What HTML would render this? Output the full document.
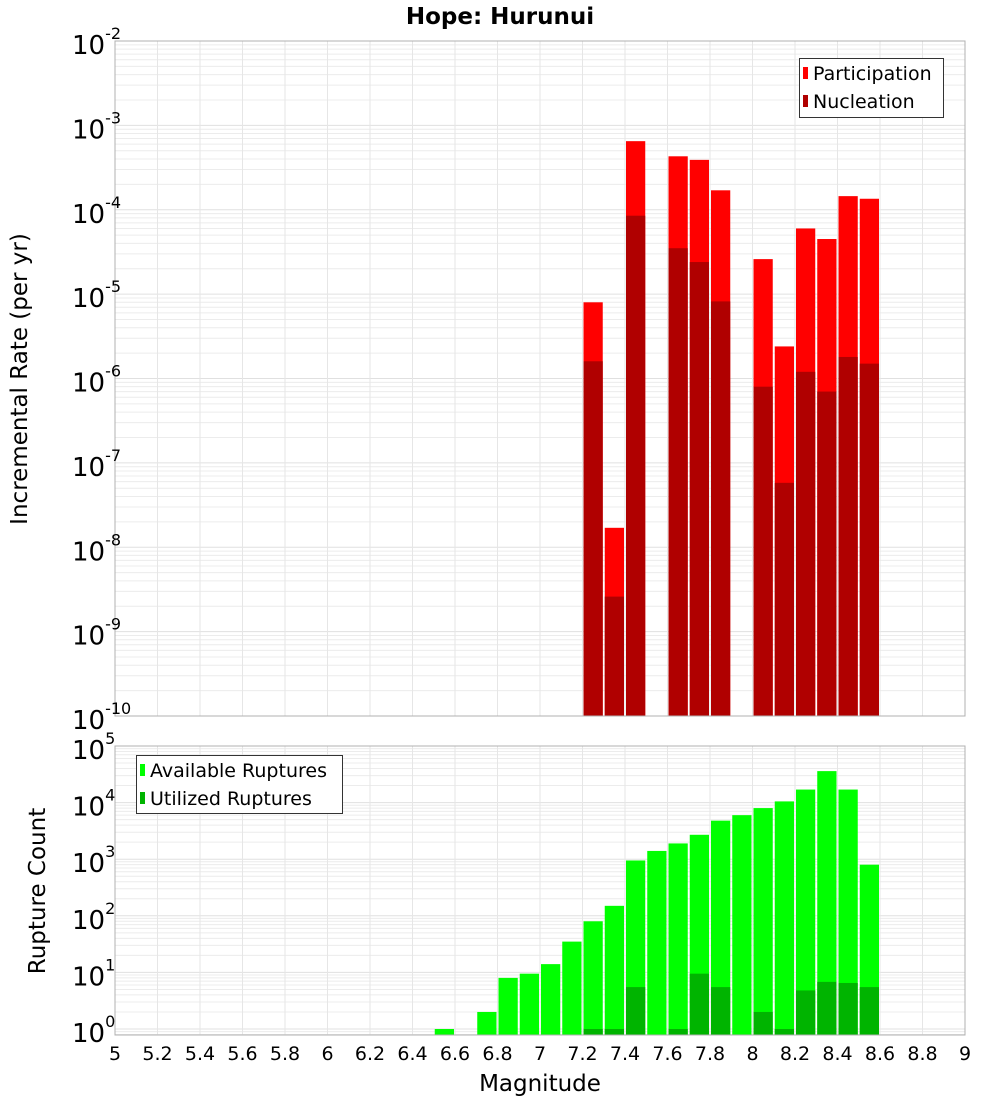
<!DOCTYPE html>
<html><head><meta charset="utf-8"><style>
body{margin:0;background:#fff;}
svg{display:block;font-family:"DejaVu Sans","Liberation Sans",sans-serif;}
</style></head><body>
<svg id="chart" width="1000" height="1100"></svg>
<script>
const mags=[7.2,7.3,7.4,7.6,7.7,7.8,8.0,8.1,8.2,8.3,8.4,8.5];
const participation=[8e-6,1.7e-8,6.5e-4,4.3e-4,3.9e-4,1.7e-4,2.6e-5,2.4e-6,6e-5,4.5e-5,1.45e-4,1.35e-4];
const nucleation=[1.6e-6,2.6e-9,8.5e-5,3.5e-5,2.4e-5,8.2e-6,8e-7,5.8e-8,1.2e-6,7e-7,1.8e-6,1.5e-6];
const availMags=[6.5,6.7,6.8,6.9,7.0,7.1,7.2,7.3,7.4,7.5,7.6,7.7,7.8,7.9,8.0,8.1,8.2,8.3,8.4,8.5];
const available=[1,2,8,9.5,14,35,80,150,950,1400,1900,2700,4800,6000,8000,10500,17000,36000,17000,800];
const utilMags=[7.2,7.3,7.4,7.6,7.7,7.8,8.0,8.1,8.2,8.3,8.4,8.5];
const utilized=[1,1,5.5,1,9.5,5.5,2,1,4.8,6.8,6.5,5.5];
const xTicks=[5,5.2,5.4,5.6,5.8,6,6.2,6.4,6.6,6.8,7,7.2,7.4,7.6,7.8,8,8.2,8.4,8.6,8.8,9];
const topExps=[-2,-3,-4,-5,-6,-7,-8,-9,-10];
const botExps=[5,4,3,2,1,0];

const NS="http://www.w3.org/2000/svg";
const svg=document.getElementById('chart');
function mk(tag,attrs,parent){const e=document.createElementNS(NS,tag);for(const k in attrs)e.setAttribute(k,attrs[k]);(parent||svg).appendChild(e);return e;}
const X0=115,X1=965;
const xs=m=>X0+(m-5)/4*(X1-X0);
const T0=41,T1=716;
const yT=v=>T0+(-2-Math.log10(v))*(T1-T0)/8;
const B0=746,B1=1035;
const yB=v=>1029-Math.log10(v)*56.6;

function grid(top,bot,yf,lo,hi){
  const g=mk('g',{});
  
  
  for(let e=lo;e<hi;e++)for(let k=1;k<10;k++){const y=yf(k*Math.pow(10,e));if(y<top||y>bot)continue;
    mk('line',{x1:X0,x2:X1,y1:y,y2:y,stroke:k==1?'#e0e0e0':'#ececec','stroke-width':1},g);}
  xTicks.forEach(t=>{const x=xs(t);mk('line',{x1:x,x2:x,y1:top,y2:bot,stroke:'#e6e6e6'},g);});
}
grid(T0,T1,yT,-10,-1);
grid(B0,B1,yB,-1,5);

function bar(m,v,yf,base,color,name){
  const x=xs(m)+1,w=xs(m+0.1)-xs(m)-2,y=yf(v);
  const r=mk('rect',{x:x,y:y,width:w,height:base-y,fill:color});
  
  
}
mags.forEach((m,i)=>bar(m,participation[i],yT,T1,'#ff0000','participation-bar'));
mags.forEach((m,i)=>bar(m,nucleation[i],yT,T1,'#b00000','nucleation-bar'));
availMags.forEach((m,i)=>bar(m,available[i],yB,B1,'#00ff00','available-bar'));
utilMags.forEach((m,i)=>bar(m,utilized[i],yB,B1,'#00b400','utilized-bar'));

mk('rect',{x:X0,y:T0,width:X1-X0,height:T1-T0,fill:'none',stroke:'#b0b0b0'});
mk('rect',{x:X0,y:B0,width:X1-X0,height:B1-B0,fill:'none',stroke:'#b0b0b0'});

function yLabel(e,y){
  const t=mk('text',{x:72,y:y+13,'text-anchor':'start','font-size':26,fill:'#000'});
  
  
  const s=mk('tspan',{},t);s.textContent='10';
  const sup=mk('tspan',{dy:-15,'font-size':16},t);sup.textContent=String(e);
}
topExps.forEach(e=>yLabel(e,yT(Math.pow(10,e))));
botExps.forEach(e=>yLabel(e,yB(Math.pow(10,e))));
xTicks.forEach(t=>{const l=mk('text',{x:xs(t),y:1060,'text-anchor':'middle','font-size':19});
  
  
  l.textContent=String(t);});
</script>
<div style="position:absolute;left:0;top:0;width:1000px;height:1100px;pointer-events:none">
<svg width="1000" height="1100" style="font-family:'DejaVu Sans','Liberation Sans',sans-serif">
<text x="500" y="24" text-anchor="middle" font-size="23" font-weight="bold">Hope: Hurunui</text>
<text transform="translate(27,379) rotate(-90)" text-anchor="middle" font-size="23">Incremental Rate (per yr)</text>
<text transform="translate(45,891) rotate(-90)" text-anchor="middle" font-size="23">Rupture Count</text>
<text x="540" y="1091" text-anchor="middle" font-size="23">Magnitude</text>
<g>
<rect x="799.5" y="58.5" width="144" height="59" fill="#fff" stroke="#333"/>
<rect x="803" y="67" width="5" height="12" fill="#ff0000"/>
<text x="813" y="80" font-size="19">Participation</text>
<rect x="803" y="95" width="5" height="12" fill="#b00000"/>
<text x="813" y="108" font-size="19">Nucleation</text>
</g>
<g>
<rect x="136.5" y="755.5" width="206" height="58" fill="#fff" stroke="#333"/>
<rect x="140" y="764" width="5" height="12" fill="#00ff00"/>
<text x="150" y="777" font-size="19">Available Ruptures</text>
<rect x="140" y="792" width="5" height="12" fill="#00b400"/>
<text x="150" y="805" font-size="19">Utilized Ruptures</text>
</g>
</svg></div>
</body></html>
